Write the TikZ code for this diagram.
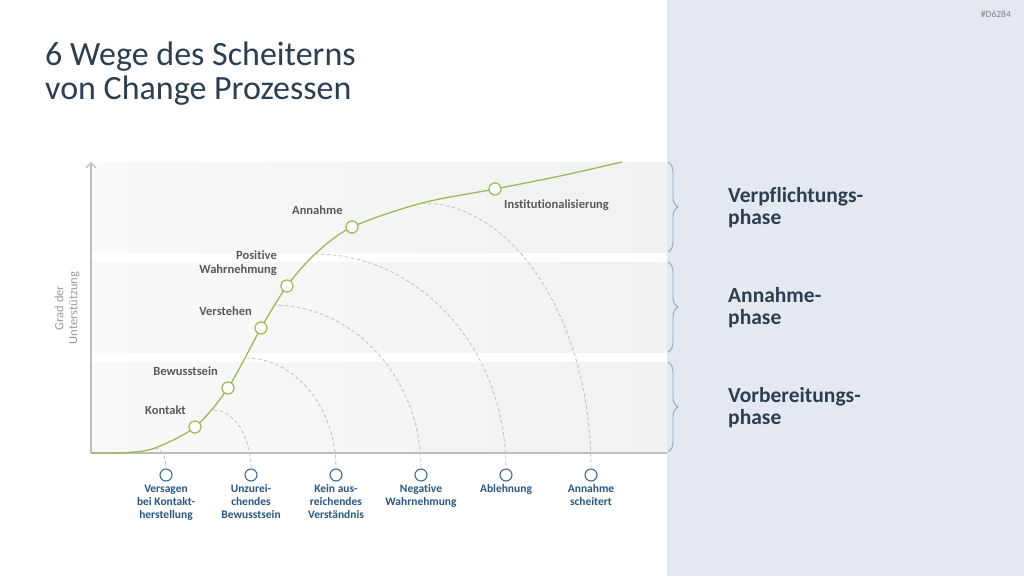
\documentclass[tikz,border=0pt]{standalone}
\usepackage{fontspec}
\setmainfont{Carlito}[Ligatures=NoCommon]
\usetikzlibrary{arrows.meta,decorations.pathreplacing,positioning,calc}
\definecolor{panelblue}{HTML}{E4E9F1}
\definecolor{titlenavy}{HTML}{2C3E50}
\definecolor{labelgray}{HTML}{595959}
\definecolor{failblue}{HTML}{2A5680}
\definecolor{ringblue}{HTML}{3D6B94}
\definecolor{curvegreen}{HTML}{9BBB59}
\definecolor{dashgray}{HTML}{C4C4C4}
\definecolor{axisgray}{HTML}{BDBDBD}
\definecolor{bracegray}{HTML}{8EA5BE}
\definecolor{bandleft}{HTML}{F9F9F9}
\definecolor{bandright}{HTML}{F1F1F1}

\begin{document}
\begin{tikzpicture}[x=1pt, y=-1pt,
  band/.style={left color=bandleft, right color=bandright, draw=none},
  dot/.style={circle, draw=curvegreen, fill=white, line width=1.2pt, minimum size=12pt, inner sep=0pt},
  ring/.style={circle, draw=ringblue, fill=white, line width=1.1pt, minimum size=12pt, inner sep=0pt},
  stage/.style={font=\fontsize{12.5}{14}\selectfont\bfseries, text=labelgray, inner sep=0pt},
  fail/.style={font=\fontsize{11.5}{13}\selectfont\bfseries, text=failblue, align=center, inner sep=0pt},
  phase/.style={font=\fontsize{21.5}{22.5}\selectfont\bfseries, text=titlenavy, align=left, inner sep=0pt, anchor=north west},
  failpath/.style={dashgray, line width=0.9pt, dash pattern=on 3.5pt off 2.5pt},
  phasebrace/.style={decorate, decoration={brace, amplitude=10pt}, bracegray, line width=0.9pt}
]
  \useasboundingbox (0,0) rectangle (1024,576);
  \fill[panelblue] (667,0) rectangle (1024,576);
  \node[anchor=base east, inner sep=0pt, font=\fontsize{9.5}{10}\selectfont, text=gray] (code) at (1011,17) {\#D6284};

  \node[anchor=north west, inner sep=0pt, align=left, text=titlenavy, font=\fontsize{34}{34.5}\selectfont] (title) at (45,41.5) {6 Wege des Scheiterns\\von Change Prozessen};

  \shade[band] (91,162) rectangle (667,252);
  \shade[band] (91,262) rectangle (667,352);
  \shade[band] (91,362) rectangle (667,452);

  \coordinate (origin) at (91,453);
  \coordinate (ytop) at (91,162);
  \coordinate (xend) at (667,453);
  \draw[axisgray, line width=1.4pt, -{Straight Barb[length=5pt, width=10pt]}] (origin) -- (ytop);
  \draw[axisgray, line width=1.4pt] (origin) -- (xend);
  \node[rotate=90, align=center, inner sep=0pt, text=gray!80, font=\fontsize{12.5}{14}\selectfont] (ylabel) at (67,308) {Grad der\\Unterstützung};

  \coordinate (s1) at (155,448);
  \coordinate (s2) at (214,410);
  \coordinate (s3) at (246,358);
  \coordinate (s4) at (273,305);
  \coordinate (s5) at (315,254);
  \coordinate (s6) at (422,203);

  \node[ring] (f1) at (166,475) {};
  \node[ring] (f2) at (251,475) {};
  \node[ring] (f3) at (336,475) {};
  \node[ring] (f4) at (421,475) {};
  \node[ring] (f5) at (506,475) {};
  \node[ring] (f6) at (591,475) {};

  \draw[failpath] (s1) .. controls +(6,0) and +(0,-12) .. (f1.north);
  \draw[failpath] (s2) .. controls +(20,0) and +(0,-32) .. (f2.north);
  \draw[failpath] (s3) .. controls +(49,0) and +(0,-61) .. (f3.north);
  \draw[failpath] (s4) .. controls +(81,0) and +(0,-90) .. (f4.north);
  \draw[failpath] (s5) .. controls +(105,0) and +(0,-119) .. (f5.north);
  \draw[failpath] (s6) .. controls +(93,0) and +(0,-146) .. (f6.north);

  \draw[curvegreen, line width=1.3pt] plot[smooth, tension=0.5] coordinates {(91,453) (127,452.5) (155,448) (195,427) (228,388) (261,328) (287,286) (315,254) (352,227) (422,203) (495,189) (560,176) (622,162)};

  \node[dot] (kontakt) at (195,427) {};
  \node[dot] (bewusst) at (228,388) {};
  \node[dot] (verstehen) at (261,328) {};
  \node[dot] (positiv) at (287,286) {};
  \node[dot] (annahme) at (352,227) {};
  \node[dot] (institut) at (495,189) {};

  \node[stage, anchor=base east] (kontaktlbl) at (186,414) {Kontakt};
  \node[stage, anchor=base east] (bewusstlbl) at (218,375) {Bewusstsein};
  \node[stage, anchor=base east] (verstehenlbl) at (252,315) {Verstehen};
  \node[stage, anchor=north east, align=right] (positivlbl) at (277,251) {Positive\\Wahrnehmung};
  \node[stage, anchor=base west] (annahmelbl) at (292,214) {Annahme};
  \node[stage, anchor=base west] (institutlbl) at (504,208) {Institutionalisierung};

  \node[fail, below=3pt of f1] (f1lbl) {Versagen\\bei Kontakt-\\herstellung};
  \node[fail, below=3pt of f2] (f2lbl) {Unzurei-\\chendes\\Bewusstsein};
  \node[fail, below=3pt of f3] (f3lbl) {Kein aus-\\reichendes\\Verständnis};
  \node[fail, below=3pt of f4] (f4lbl) {Negative\\Wahrnehmung};
  \node[fail, below=3pt of f5] (f5lbl) {Ablehnung};
  \node[fail, below=3pt of f6] (f6lbl) {Annahme\\scheitert};

  \draw[phasebrace] (668,162) -- (668,252);
  \draw[phasebrace] (668,262) -- (668,352);
  \draw[phasebrace] (668,362) -- (668,452);

  \node[phase] (verpfl) at (728,186.9) {Verpflichtungs-\\phase};
  \node[phase] (annphase) at (728,286.9) {Annahme-\\phase};
  \node[phase] (vorber) at (728,386.9) {Vorbereitungs-\\phase};
\end{tikzpicture}
\end{document}
